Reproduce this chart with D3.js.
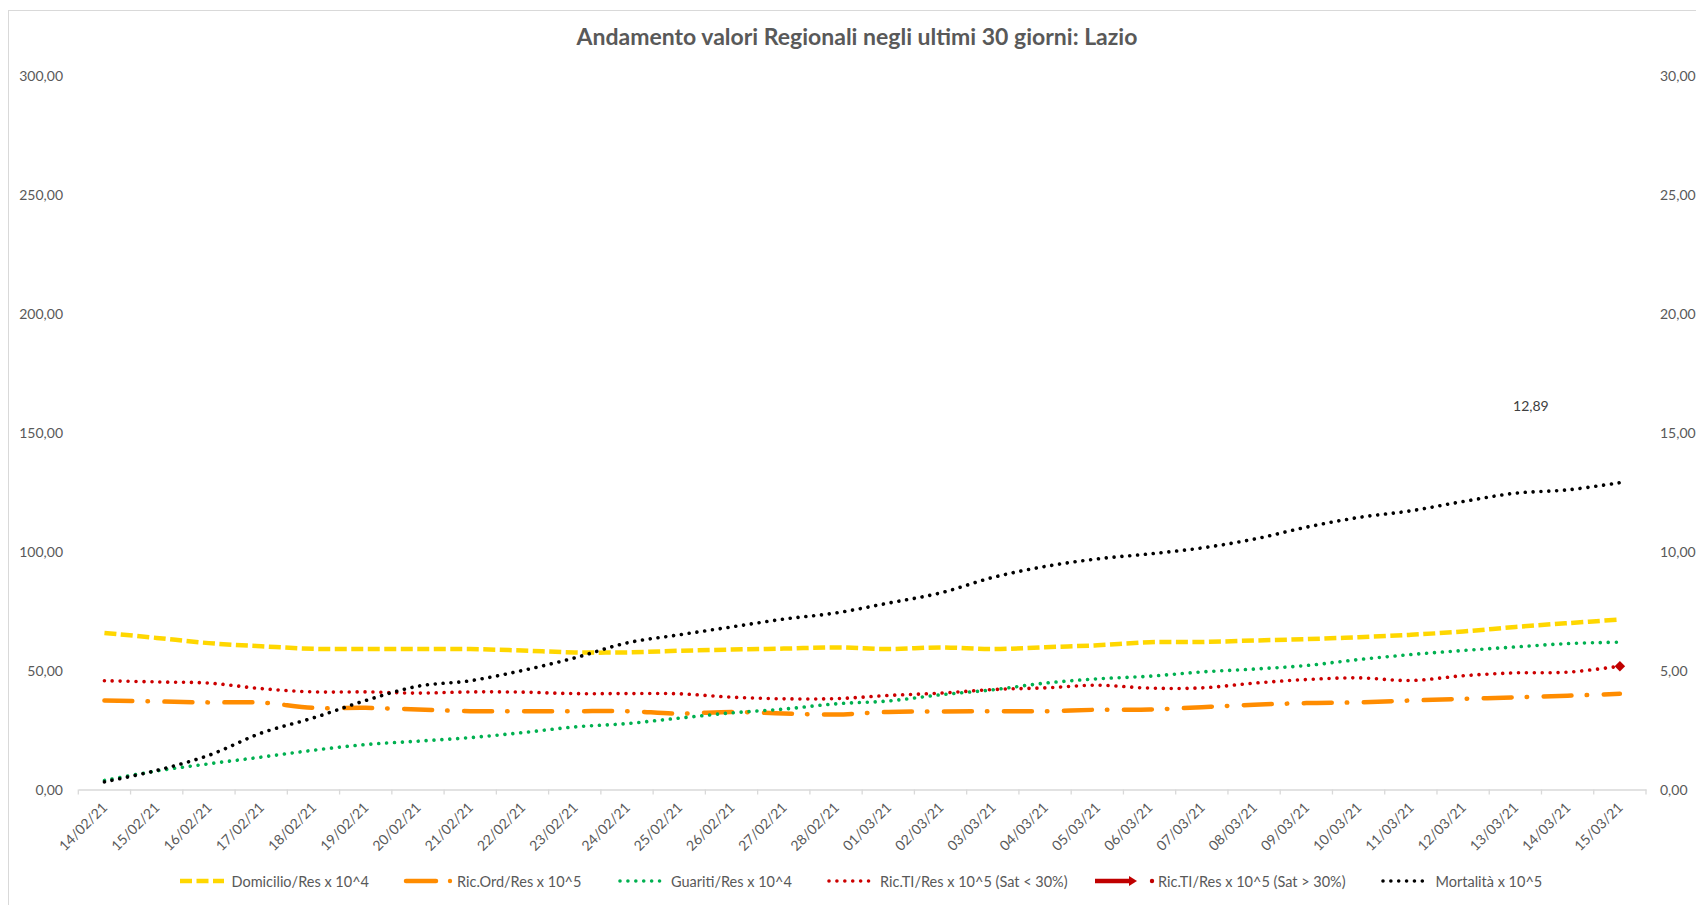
<!DOCTYPE html>
<html><head><meta charset="utf-8">
<script src="https://cdn.jsdelivr.net/npm/d3@7"></script>
<style>
body{margin:0;background:#fff;}
svg{display:block;}
text{font-family:Lato,"Open Sans",sans-serif;}
</style>
</head><body>
<svg id="chart" width="1696" height="905"></svg>
<script>
// ---------- DATA ----------
const dates = ["14/02/21","15/02/21","16/02/21","17/02/21","18/02/21","19/02/21","20/02/21","21/02/21","22/02/21","23/02/21","24/02/21","25/02/21","26/02/21","27/02/21","28/02/21","01/03/21","02/03/21","03/03/21","04/03/21","05/03/21","06/03/21","07/03/21","08/03/21","09/03/21","10/03/21","11/03/21","12/03/21","13/03/21","14/03/21","15/03/21"];
const domicilio = [65.8,63.7,61.5,60.2,59.1,59.0,59.0,59.0,58.4,57.6,57.6,58.3,58.8,59.2,59.7,59.0,59.7,59.0,59.8,60.6,61.9,62.0,62.6,63.2,64.0,65.0,66.4,68.3,69.9,71.4];
const ricOrd = [37.4,37.0,36.6,36.5,34.3,34.3,33.6,32.9,32.9,32.9,32.9,31.9,32.6,31.9,31.5,32.6,32.8,32.9,32.9,33.5,33.6,34.6,35.6,36.3,36.6,37.4,38.1,38.7,39.4,40.2];
const guariti = [3.8,7.8,10.8,13.6,16.5,18.9,20.3,21.8,23.9,26.3,27.7,30.0,32.2,33.8,36.0,37.2,39.8,41.9,44.7,46.5,47.6,49.4,50.6,52.1,54.6,56.7,58.4,59.9,61.3,61.9];
const ricTI = [45.7,45.2,44.7,42.4,41.0,41.0,40.5,41.0,40.9,40.3,40.3,40.2,38.8,38.1,38.2,39.5,40.5,42.0,42.7,43.8,42.6,42.7,44.7,46.2,46.9,45.8,47.8,49.0,49.3,51.8];
const ricTISat = [null,null,null,null,null,null,null,null,null,null,null,null,null,null,null,null,null,null,null,null,null,null,null,null,null,null,null,null,null,51.8];
const mortalita = [0.32,0.80,1.44,2.37,3.01,3.74,4.34,4.57,5.00,5.53,6.16,6.50,6.83,7.16,7.42,7.83,8.26,8.91,9.37,9.69,9.90,10.15,10.52,11.02,11.43,11.71,12.10,12.45,12.59,12.89];
const leftTicks = [0,50,100,150,200,250,300];
const rightTicks = [0,5,10,15,20,25,30];
const seriesNames = ["Domicilio/Res x 10^4","Ric.Ord/Res x 10^5","Guariti/Res x 10^4","Ric.TI/Res x 10^5 (Sat < 30%)","Ric.TI/Res x 10^5 (Sat > 30%)","Mortalità x 10^5"];
const titleText = "Andamento valori Regionali negli ultimi 30 giorni: Lazio";
const lastLabel = 12.89;

// ---------- LAYOUT ----------
const svg = d3.select("#chart");
const plot = {left:78.3, right:1646, top:75.5, bottom:789.5};
const textCol = "#595959";
const fmt = d3.formatLocale({decimal:",",thousands:".",grouping:[3],currency:["€",""]}).format(".2f");

svg.append("rect").attr("x",8.5).attr("y",10.5).attr("width",1720).attr("height",920)
  .attr("fill","#fff").attr("stroke","#d9d9d9").attr("stroke-width",1);

const x = d3.scaleBand().domain(dates).range([plot.left, plot.right]).paddingInner(0).paddingOuter(0);
const cx = d => x(d) + x.bandwidth()/2;
const yL = d3.scaleLinear().domain([0,300]).range([plot.bottom, plot.top]);
const yR = d3.scaleLinear().domain([0,30]).range([plot.bottom, plot.top]);

// title
svg.append("text").attr("x",857).attr("y",36).attr("text-anchor","middle").attr("dominant-baseline","central")
  .attr("font-size",23).attr("font-weight","bold").attr("fill",textCol).text(titleText);

// left axis labels
svg.append("g").selectAll("text").data(leftTicks).join("text")
  .attr("x",63).attr("y",d=>yL(d)).attr("text-anchor","end").attr("dominant-baseline","central")
  .attr("font-size",14).attr("fill",textCol).text(d=>fmt(d));
// right axis labels
svg.append("g").selectAll("text").data(rightTicks).join("text")
  .attr("x",1660).attr("y",d=>yR(d)).attr("text-anchor","start").attr("dominant-baseline","central")
  .attr("font-size",14).attr("fill",textCol).text(d=>fmt(d));

// x axis
const xAxis = svg.append("g").attr("transform",`translate(0,${plot.bottom})`)
  .call(d3.axisBottom(x).tickSize(0).tickFormat(""));
xAxis.select(".domain").attr("stroke","#d9d9d9").attr("stroke-width",1.3);
const bounds = dates.map(d=>x(d)).concat([plot.right]);
xAxis.selectAll("line.b").data(bounds).join("line").attr("class","b")
  .attr("x1",d=>d).attr("x2",d=>d).attr("y1",0).attr("y2",5).attr("stroke","#d9d9d9").attr("stroke-width",1.3);
svg.append("g").selectAll("text").data(dates).join("text")
  .attr("transform",d=>`translate(${cx(d)},${plot.bottom+15}) rotate(-45)`)
  .attr("text-anchor","end").attr("dominant-baseline","central")
  .attr("font-size",14).attr("fill",textCol).text(d=>d);

// lines
const mk = (yScale) => d3.line().defined(v=>v!=null).x((v,i)=>cx(dates[i])).y(v=>yScale(v)).curve(d3.curveCatmullRom.alpha(0.5));
const styles = [
  {data:domicilio, y:yL, color:"#FFD700", w:4.5, dash:"12 4.5", cap:"butt"},
  {data:ricOrd, y:yL, color:"#FF8C00", w:4.5, dash:"28 15 0.5 16.5", cap:"round"},
  {data:guariti, y:yL, color:"#00B050", w:3.6, dash:"0.01 7.9", cap:"round"},
  {data:ricTI, y:yL, color:"#CC0000", w:3.6, dash:"0.01 7.9", cap:"round"},
  {data:mortalita, y:yR, color:"#000000", w:3.6, dash:"0.01 7.85", cap:"round"}
];
const g = svg.append("g");
styles.forEach(s=>{
  g.append("path").datum(s.data).attr("d",mk(s.y)).attr("fill","none")
   .attr("stroke",s.color).attr("stroke-width",s.w).attr("stroke-dasharray",s.dash).attr("stroke-linecap",s.cap);
});
// series 5 marker (diamond)
g.selectAll("path.dm").data(ricTISat.map((v,i)=>({v,i})).filter(d=>d.v!=null)).join("path").attr("class","dm")
  .attr("d",d3.symbol(d3.symbolDiamond2,70)())
  .attr("transform",d=>`translate(${cx(dates[d.i])},${yL(d.v)})`).attr("fill","#C00000");

// data label
const li = mortalita.length-1;
svg.append("text").attr("x",cx(dates[li])-89).attr("y",yR(mortalita[li])-77)
  .attr("text-anchor","middle").attr("dominant-baseline","central").attr("font-size",14).attr("fill","#404040")
  .text(fmt(lastLabel));

// legend
const legendLayout = [
  {x0:180,x1:224,tx:231.5},
  {x0:406,x1:436,tx:457,dot:450},
  {x0:620,x1:661,tx:671},
  {x0:829,x1:872,tx:880},
  {x0:1095,x1:1130,tx:1158,dot:1152,arrow:true},
  {x0:1383,x1:1427,tx:1435.5}
];
const legendColors = ["#FFD700","#FF8C00","#00B050","#CC0000","#C00000","#000000"];
const ly = 881;
const lg = svg.append("g");
legendLayout.forEach((L,i)=>{
  const s = styles[i < 4 ? i : (i===5?4:3)];
  if(i===1){
    lg.append("line").attr("x1",L.x0).attr("x2",L.x1).attr("y1",ly).attr("y2",ly).attr("stroke",legendColors[i]).attr("stroke-width",4.5).attr("stroke-linecap","round");
    lg.append("circle").attr("cx",L.dot).attr("cy",ly).attr("r",2.2).attr("fill",legendColors[i]);
  } else if(L.arrow){
    lg.append("line").attr("x1",L.x0).attr("x2",L.x1).attr("y1",ly).attr("y2",ly).attr("stroke",legendColors[i]).attr("stroke-width",4.5);
    lg.append("path").attr("d",`M${L.x1-1},${ly-5}L${L.x1+7},${ly}L${L.x1-1},${ly+5}Z`).attr("fill",legendColors[i]);
    lg.append("circle").attr("cx",L.dot).attr("cy",ly).attr("r",2.2).attr("fill",legendColors[i]);
  } else {
    lg.append("line").attr("x1",L.x0).attr("x2",L.x1).attr("y1",ly).attr("y2",ly).attr("stroke",legendColors[i])
      .attr("stroke-width",s.w).attr("stroke-dasharray",s.dash).attr("stroke-linecap",s.cap);
  }
  lg.append("text").attr("x",L.tx).attr("y",ly).attr("dominant-baseline","central").attr("font-size",14.5).attr("fill",textCol).text(seriesNames[i]);
});
</script>
</body></html>
